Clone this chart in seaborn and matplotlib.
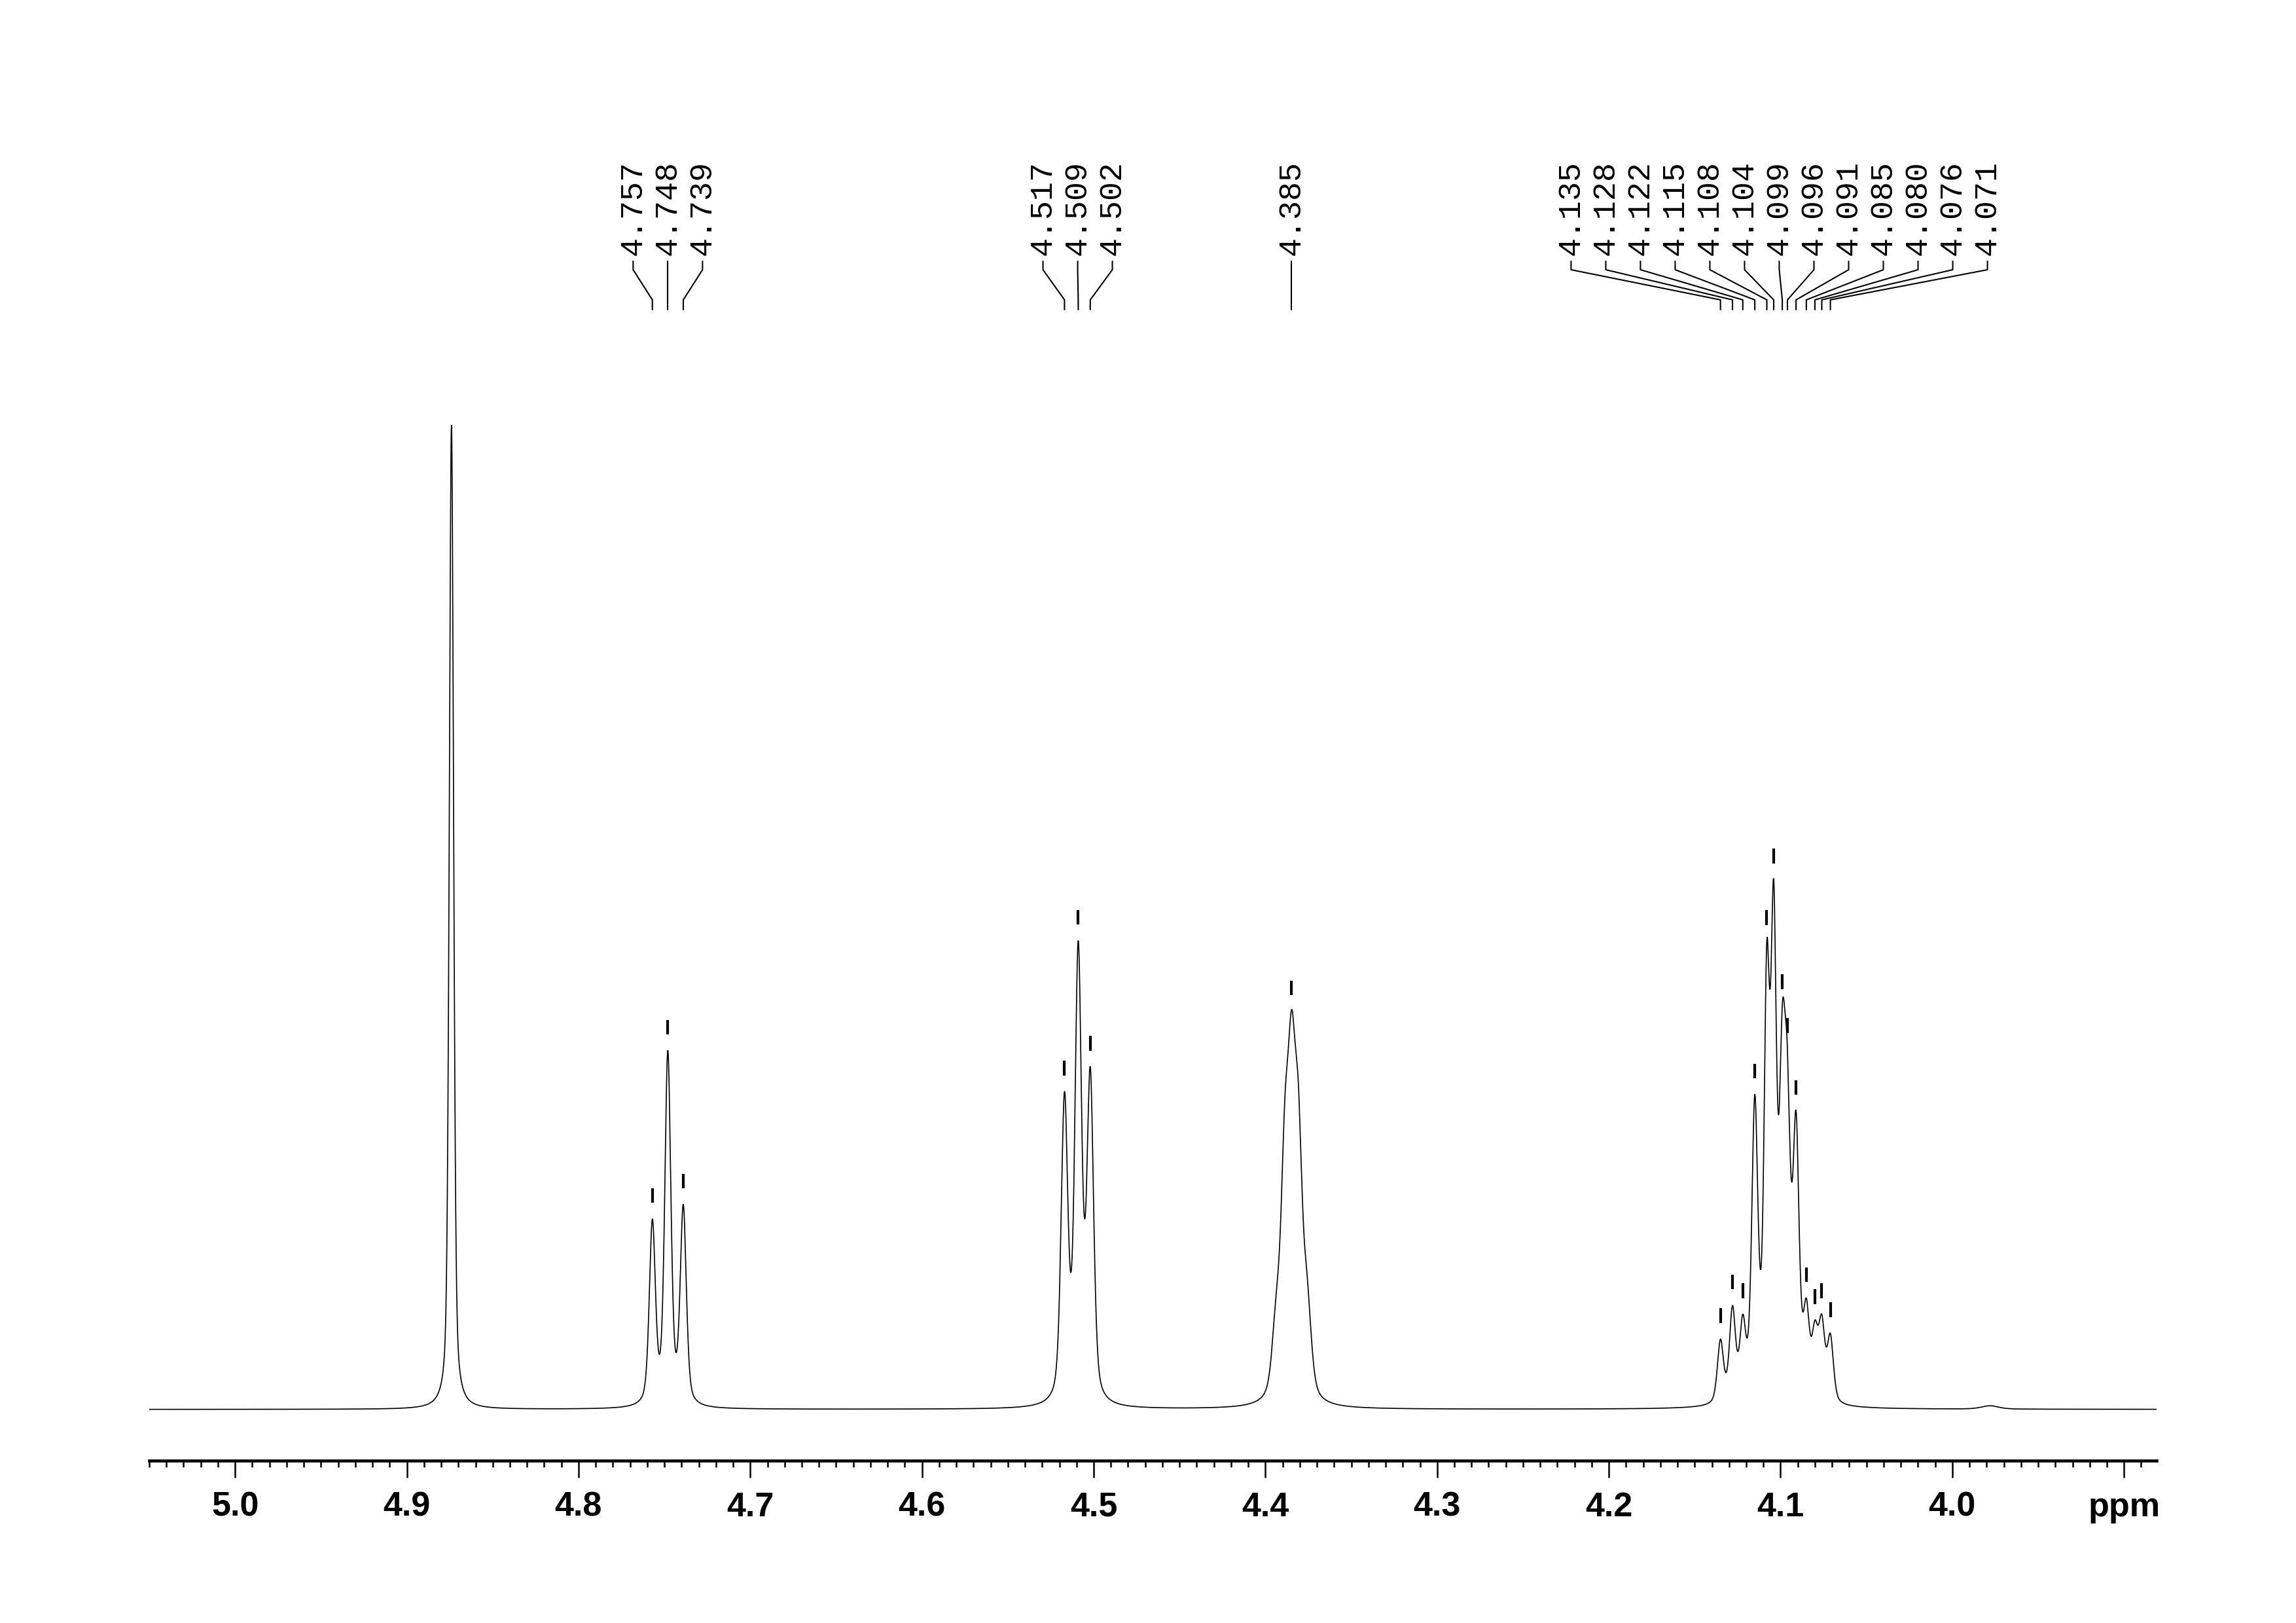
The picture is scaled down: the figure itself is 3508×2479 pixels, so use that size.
import numpy as np
import pandas as pd
import matplotlib
matplotlib.use("Agg")
import matplotlib.pyplot as plt
import matplotlib.transforms as mtransforms
from matplotlib import font_manager
from matplotlib.ticker import MultipleLocator
import seaborn as sns

# -------------------------------
# Peak data
# -------------------------------

# picked peaks, grouped as they are labelled on top
group_a = [4.757, 4.748, 4.739]
group_b = [4.517, 4.509, 4.502]
group_c = [4.385]
group_d = [4.135, 4.128, 4.122, 4.115, 4.108, 4.104, 4.099,
           4.096, 4.091, 4.085, 4.080, 4.076, 4.071]

# line components: position (ppm), observed height, half width (ppm)
line_ppm = [4.874,
            4.757, 4.748, 4.739,
            4.517, 4.509, 4.502,
            4.3938, 4.3887, 4.3847, 4.3807, 4.3756,
            4.135, 4.128, 4.122, 4.115, 4.108, 4.104, 4.099,
            4.096, 4.091, 4.085, 4.080, 4.076, 4.071,
            3.978]
line_height = [672,
               130, 245, 140,
               217, 320, 234,
               78, 212, 273, 220, 90,
               48, 71, 65, 215, 320, 362, 276,
               246, 204, 76, 61, 65, 52,
               2.5]
line_width = [0.0015,
              0.0021, 0.0021, 0.0021,
              0.0023, 0.0023, 0.0023,
              0.0028, 0.0028, 0.0028, 0.0028, 0.0028,
              0.0021, 0.0021, 0.0021, 0.0021, 0.0019, 0.0019, 0.0021,
              0.0021, 0.0021, 0.0021, 0.0021, 0.0021, 0.0021,
              0.006]

x_lo, x_hi = 3.881, 5.050
lorentz_share = 0.45

# -------------------------------
# Build the spectrum
# -------------------------------

pos = np.array(line_ppm)
obs = np.array(line_height, dtype=float)
gam = np.array(line_width)


def shape(x, c, g):
    # pseudo-Voigt with half width g
    lor = 1.0 / (1.0 + ((x - c) / g) ** 2)
    gau = np.exp(-np.log(2) * ((x - c) / g) ** 2)
    return lorentz_share * lor + (1 - lorentz_share) * gau


# overlap matrix, then find amplitudes that give the observed heights
M = shape(pos[:, None], pos[None, :], gam[None, :])
amp = obs.copy()
for _ in range(800):
    amp = np.clip(amp + 0.5 * (obs - M @ amp), 0, None)

ppm = np.linspace(x_lo, x_hi, 9000)
intensity = (amp[None, :] * shape(ppm[:, None], pos[None, :], gam[None, :])).sum(axis=1)

spec = pd.DataFrame({"ppm": ppm, "intensity": intensity})

# -------------------------------
# Plot
# -------------------------------

sns.set_theme(style="white")
plt.rcParams["font.family"] = ["DejaVu Sans"]
plt.rcParams["text.color"] = "black"
plt.rcParams["xtick.color"] = "black"
plt.rcParams["axes.edgecolor"] = "black"

installed = {f.name for f in font_manager.fontManager.ttflist}
tick_family = next((n for n in ["Liberation Sans Narrow", "Arial Narrow"]
                    if n in installed), "Liberation Sans")
label_family = "Liberation Mono" if "Liberation Mono" in installed else "DejaVu Sans Mono"

fig = plt.figure(figsize=(3508 / 300, 2479 / 300), dpi=300)
ax = fig.add_axes([0.0650, 0.1000, 0.8743, 0.6382])

sns.lineplot(data=spec, x="ppm", y="intensity", ax=ax,
             color="black", linewidth=0.4, sort=False)

ax.set_xlim(x_hi, x_lo)
ax.set_ylim(-35, 672)

for side in ["top", "left", "right"]:
    ax.spines[side].set_visible(False)
ax.spines["bottom"].set_linewidth(1.1)

ax.set_yticks([])
ax.set_xlabel("")
ax.set_ylabel("")

major = np.round(np.arange(3.9, 5.001, 0.1), 1)
ax.set_xticks(major)
ax.set_xticklabels(["ppm" if abs(t - 3.9) < 1e-6 else f"{t:.1f}" for t in major])
ax.xaxis.set_minor_locator(MultipleLocator(0.01))
ax.tick_params(axis="x", which="major", direction="out", length=6.2,
               width=0.6, color="black", pad=5, labelsize=12.5,
               labelcolor="black", bottom=True)
ax.tick_params(axis="x", which="minor", direction="out", length=2.4,
               width=0.6, color="black", bottom=True)
for lab in ax.get_xticklabels():
    lab.set_fontfamily([tick_family, "DejaVu Sans"])
    lab.set_fontweight("bold")

# peak markers above each picked peak
picked = group_a + group_b + group_c + group_d
top = np.interp(picked, ppm, intensity)
ax.vlines(picked, top + 11, top + 21, color="black", linewidth=1.0)

# -------------------------------
# Peak labels with leader lines
# -------------------------------

blend = mtransforms.blended_transform_factory(ax.transData, fig.transFigure)
spacing = 53 / 2623  # label pitch in ppm
y_text = 1 - 390 / 2479
y1, y2, y3, y4 = [1 - v / 2479 for v in (399, 412, 458, 473)]

for group in [group_a, group_b, group_c, group_d]:
    n = len(group)
    center = np.mean(group)
    for i, p in enumerate(group):
        lx = center + ((n - 1) / 2 - i) * spacing
        ax.text(lx, y_text, f"{p:.3f}", transform=blend, rotation=90,
                ha="center", va="bottom", fontsize=11.6,
                family=label_family, color="black")
        ax.plot([lx, lx, p, p], [y1, y2, y3, y4], transform=blend,
                color="black", linewidth=0.5, clip_on=False)

fig.savefig("out.png", dpi=300)
plt.close(fig)
